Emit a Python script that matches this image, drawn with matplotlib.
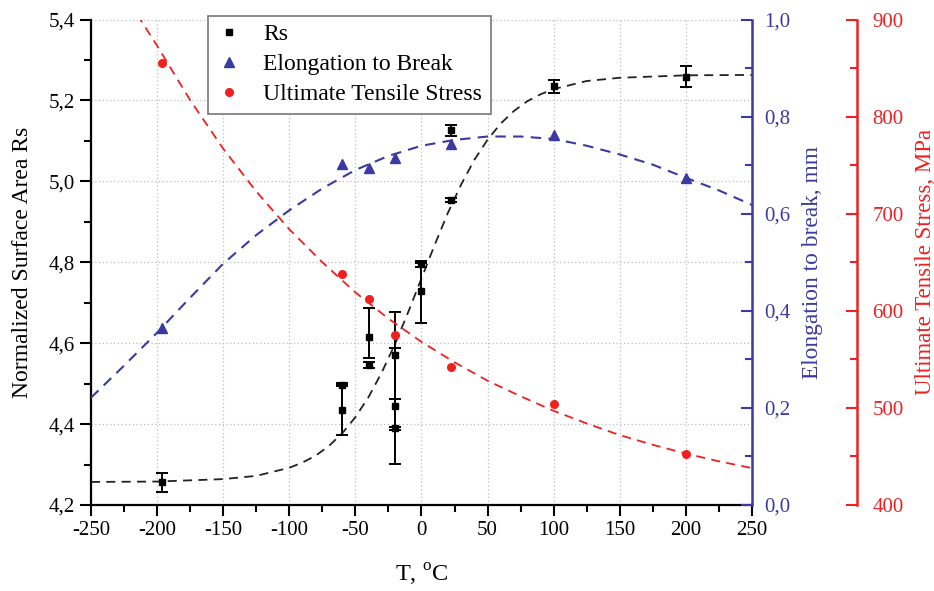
"""
plot.py - Surface area Rs, elongation and tensile stress vs temperature
"""

import matplotlib
matplotlib.use("Agg")
import matplotlib.pyplot as plt
from matplotlib.lines import Line2D
from matplotlib.ticker import MultipleLocator, FuncFormatter

plt.rcParams["font.family"] = ["Liberation Serif", "DejaVu Serif"]
plt.rcParams["mathtext.fontset"] = "custom"
plt.rcParams["mathtext.rm"] = "Liberation Serif"
plt.rcParams["axes.unicode_minus"] = False

BLUE = "#3a3aa0"
RED = "#f02020"

# ==============================
# Data
# ==============================
rs_temp = [-196, -60, -60, -40, -40, -20, -20, -20, 0, 0, 22, 22, 100, 200]
rs_value = [4.257, 4.435, 4.497, 4.615, 4.546, 4.571, 4.445, 4.390,
            4.796, 4.730, 5.126, 4.953, 5.235, 5.259]
rs_err_lo = [0.025, 0.062, 0.004, 0.052, 0.008, 0.110, 0.144, 0.004,
             0.008, 0.079, 0.014, 0.005, 0.016, 0.027]
rs_err_hi = [0.023, 0.062, 0.004, 0.072, 0.008, 0.107, 0.143, 0.004,
             0.008, 0.068, 0.014, 0.005, 0.016, 0.027]

mech_temp = [-196, -60, -40, -20, 22, 100, 200]
elong_value = [0.365, 0.703, 0.695, 0.715, 0.744, 0.763, 0.674]
uts_value = [855, 638, 612, 575, 542, 504, 453]

# dashed fit curves
rs_fit_temp = [-250, -200, -150, -125, -100, -90, -80, -70, -60, -50, -40,
               -30, -20, -10, 0, 10, 20, 30, 40, 50, 60, 70, 80, 90, 100,
               125, 150, 200, 250]
rs_fit = [4.257, 4.258, 4.264, 4.272, 4.292, 4.305, 4.322, 4.346, 4.377,
          4.417, 4.467, 4.528, 4.598, 4.677, 4.760, 4.843, 4.922, 4.992,
          5.053, 5.103, 5.143, 5.174, 5.198, 5.215, 5.228, 5.248, 5.256,
          5.262, 5.263]

elong_fit_temp = [-250, -225, -200, -175, -150, -125, -100, -75, -50, -25, 0,
                  25, 50, 75, 100, 125, 150, 175, 200, 225, 250]
elong_fit = [0.221, 0.287, 0.355, 0.427, 0.497, 0.556, 0.607, 0.652, 0.690,
             0.719, 0.740, 0.752, 0.759, 0.759, 0.754, 0.740, 0.722, 0.701,
             0.674, 0.648, 0.618]

uts_fit_temp = [-215, -200, -175, -150, -125, -100, -75, -50, -25, 0, 25,
                50, 75, 100, 125, 150, 175, 200, 225, 250]
uts_fit = [905, 873, 817, 767, 723, 684, 650, 619, 592, 568, 547, 528, 512,
           497, 484, 472, 462, 453, 445, 438]


def comma_fmt(v, pos):
    return f"{v:.1f}".replace(".", ",")


# ==============================
# Figure
# ==============================
fig = plt.figure(figsize=(9.34, 5.91), dpi=100)
ax = fig.add_axes([0.0974, 0.1455, 0.7077, 0.8215])
ax2 = ax.twinx()
ax3 = ax.twinx()
ax3.spines["right"].set_position(("axes", 1.159))

# Rs
ax.plot(rs_fit_temp, rs_fit, ls=(0, (5, 3.5)), color="#222222", lw=1.3, zorder=2)
ax.errorbar(rs_temp, rs_value, yerr=[rs_err_lo, rs_err_hi], fmt="s",
            color="black", ms=5, capsize=4, elinewidth=1.4, capthick=1.4,
            zorder=3)

# elongation
ax2.plot(elong_fit_temp, elong_fit, ls=(0, (5, 3.5)), color=BLUE, lw=1.5)
ax2.plot(mech_temp, elong_value, "^", color=BLUE, ms=6.5, ls="none")

# tensile stress
ax3.plot(uts_fit_temp, uts_fit, ls=(0, (5, 3.5)), color=RED, lw=1.3)
ax3.plot(mech_temp, uts_value, "o", color=RED, ms=5.5, ls="none")

# ==============================
# Axes styling
# ==============================
ax.set_xlim(-250, 250)
ax.set_ylim(4.2, 5.4)
ax2.set_ylim(0, 1.0)
ax3.set_ylim(400, 900)

ax.xaxis.set_major_locator(MultipleLocator(50))
ax.xaxis.set_minor_locator(MultipleLocator(25))
ax.yaxis.set_major_locator(MultipleLocator(0.2))
ax.yaxis.set_minor_locator(MultipleLocator(0.1))
ax.yaxis.set_major_formatter(FuncFormatter(comma_fmt))
ax2.yaxis.set_major_locator(MultipleLocator(0.2))
ax2.yaxis.set_minor_locator(MultipleLocator(0.1))
ax2.yaxis.set_major_formatter(FuncFormatter(comma_fmt))
ax3.yaxis.set_major_locator(MultipleLocator(100))
ax3.yaxis.set_minor_locator(MultipleLocator(50))

ax.grid(True, which="major", ls=(0, (1, 2)), color="#bdbdbd", lw=0.9)

for s in ["top", "right"]:
    ax.spines[s].set_visible(False)
for a in (ax2, ax3):
    for s in ["top", "left", "bottom"]:
        a.spines[s].set_visible(False)
for s in ["left", "bottom"]:
    ax.spines[s].set_linewidth(1.6)
ax2.spines["right"].set_color(BLUE)
ax2.spines["right"].set_linewidth(1.8)
ax3.spines["right"].set_color(RED)
ax3.spines["right"].set_linewidth(1.8)

ax.tick_params(which="both", direction="out", width=1.5, labelsize=15,
               top=False, right=False)
ax.tick_params(which="major", length=8)
ax.tick_params(which="minor", length=5)
ax2.tick_params(axis="y", which="both", direction="in", colors=BLUE,
                width=1.5, labelsize=15, pad=9)
ax2.tick_params(axis="y", which="major", length=8)
ax2.tick_params(axis="y", which="minor", length=5)
ax3.tick_params(axis="y", which="both", direction="in", colors=RED,
                width=1.5, labelsize=15, pad=11)
ax3.tick_params(axis="y", which="major", length=8)
ax3.tick_params(axis="y", which="minor", length=5)

ax.set_xlabel(r"T, $^{\mathrm{o}}$C", fontsize=17.5, labelpad=16)
ax.set_ylabel("Normalized Surface Area Rs", fontsize=17, labelpad=11)
ax2.set_ylabel("Elongation to break, mm", fontsize=16.8, color=BLUE, labelpad=8)
ax3.set_ylabel("Ultimate Tensile Stress, MPa", fontsize=16.5, color=RED,
               labelpad=8)

# ==============================
# Legend
# ==============================
handles = [
    Line2D([], [], marker="s", ls="none", color="black", ms=5, label="Rs"),
    Line2D([], [], marker="^", ls="none", color=BLUE, ms=6.5,
           label="Elongation to Break"),
    Line2D([], [], marker="o", ls="none", color=RED, ms=5.5,
           label="Ultimate Tensile Stress"),
]
leg = ax3.legend(handles=handles, loc="upper left", bbox_to_anchor=(0.177, 1.008),
                 fontsize=17, frameon=True, fancybox=False, edgecolor="#777777",
                 framealpha=1, borderpad=0.35, labelspacing=0.36,
                 handlelength=1.1, handletextpad=0.9, borderaxespad=0)
leg.get_frame().set_linewidth(1.2)

fig.savefig("out.png", dpi=100)
